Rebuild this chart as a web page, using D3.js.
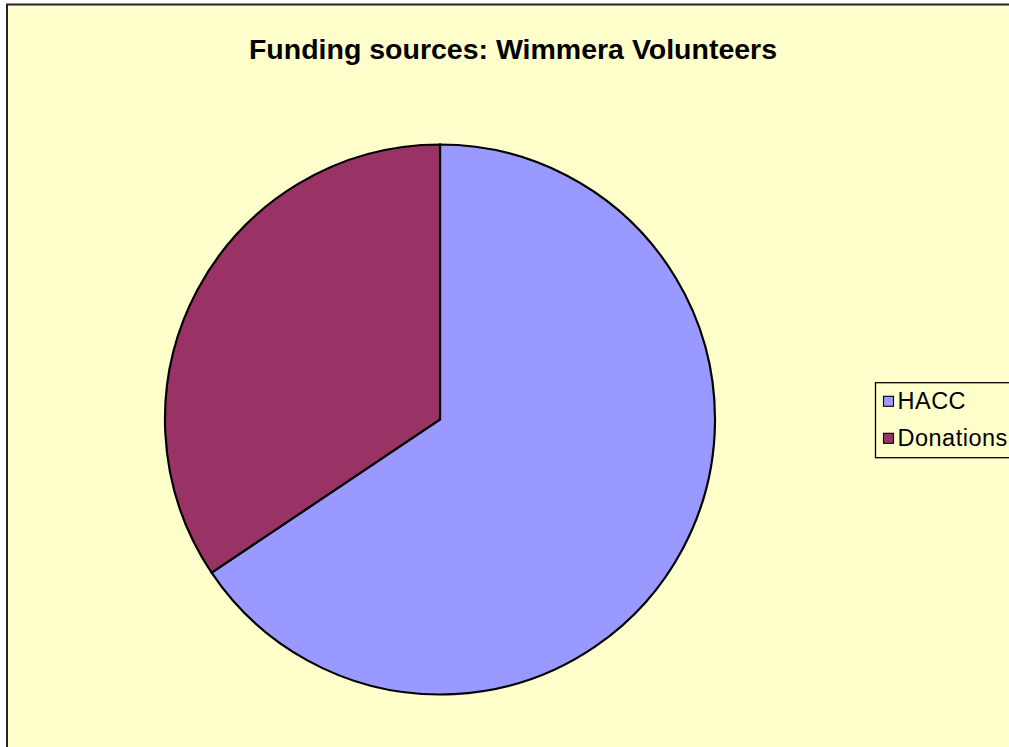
<!DOCTYPE html>
<html>
<head>
<meta charset="utf-8">
<script src="https://cdn.jsdelivr.net/npm/d3@7"></script>
<style>
  html, body { margin: 0; padding: 0; background: #ffffff; }
  svg { display: block; }
</style>
</head>
<body>
<svg id="chart" width="1009" height="747"></svg>
<script>
const categories = ["HACC", "Donations"];
const values = [65.6, 34.4];
const colors = ["#9999FF", "#993366"];
const title = "Funding sources: Wimmera Volunteers";

const svg = d3.select("#chart");

// chart area
svg.append("rect")
  .attr("x", 7).attr("y", 4.5)
  .attr("width", 1030).attr("height", 760)
  .attr("fill", "#FFFFCC")
  .attr("stroke", "#222").attr("stroke-width", 2);

svg.append("text")
  .attr("x", 513).attr("y", 58.5)
  .attr("text-anchor", "middle")
  .attr("font-family", "Arial, 'Liberation Sans', sans-serif")
  .attr("font-weight", "bold")
  .attr("font-size", 28.5)
  .attr("fill", "#000")
  .text(title);

const cx = 440, cy = 419.5, r = 275;
const pie = d3.pie().sort(null).value(d => d)(values);
const arc = d3.arc().innerRadius(0).outerRadius(r);
const color = d3.scaleOrdinal().domain(categories).range(colors);

svg.append("g")
  .attr("transform", `translate(${cx},${cy})`)
  .selectAll("path")
  .data(pie)
  .join("path")
  .attr("d", arc)
  .attr("fill", (d, i) => color(categories[i]))
  .attr("stroke", "#000")
  .attr("stroke-width", 2.2)
  .attr("stroke-linejoin", "miter");

// legend
const lg = svg.append("g");
lg.append("rect")
  .attr("x", 875.5).attr("y", 382.7)
  .attr("width", 200).attr("height", 75)
  .attr("fill", "#FFFFCC")
  .attr("stroke", "#000").attr("stroke-width", 1.3);

const rowY = d3.scalePoint().domain(categories).range([409.3, 446.3]);
const items = lg.selectAll("g.item").data(categories).join("g").attr("class", "item");
items.append("rect")
  .attr("x", 883.5).attr("y", d => rowY(d) - 13)
  .attr("width", 10).attr("height", 10)
  .attr("fill", d => color(d))
  .attr("stroke", "#000").attr("stroke-width", 1.1);
items.append("text")
  .attr("x", 897.5).attr("y", d => rowY(d))
  .attr("font-family", "Arial, 'Liberation Sans', sans-serif")
  .attr("font-size", 23.5)
  .attr("letter-spacing", 0.5)
  .attr("fill", "#000")
  .text(d => d);
</script>
</body>
</html>
